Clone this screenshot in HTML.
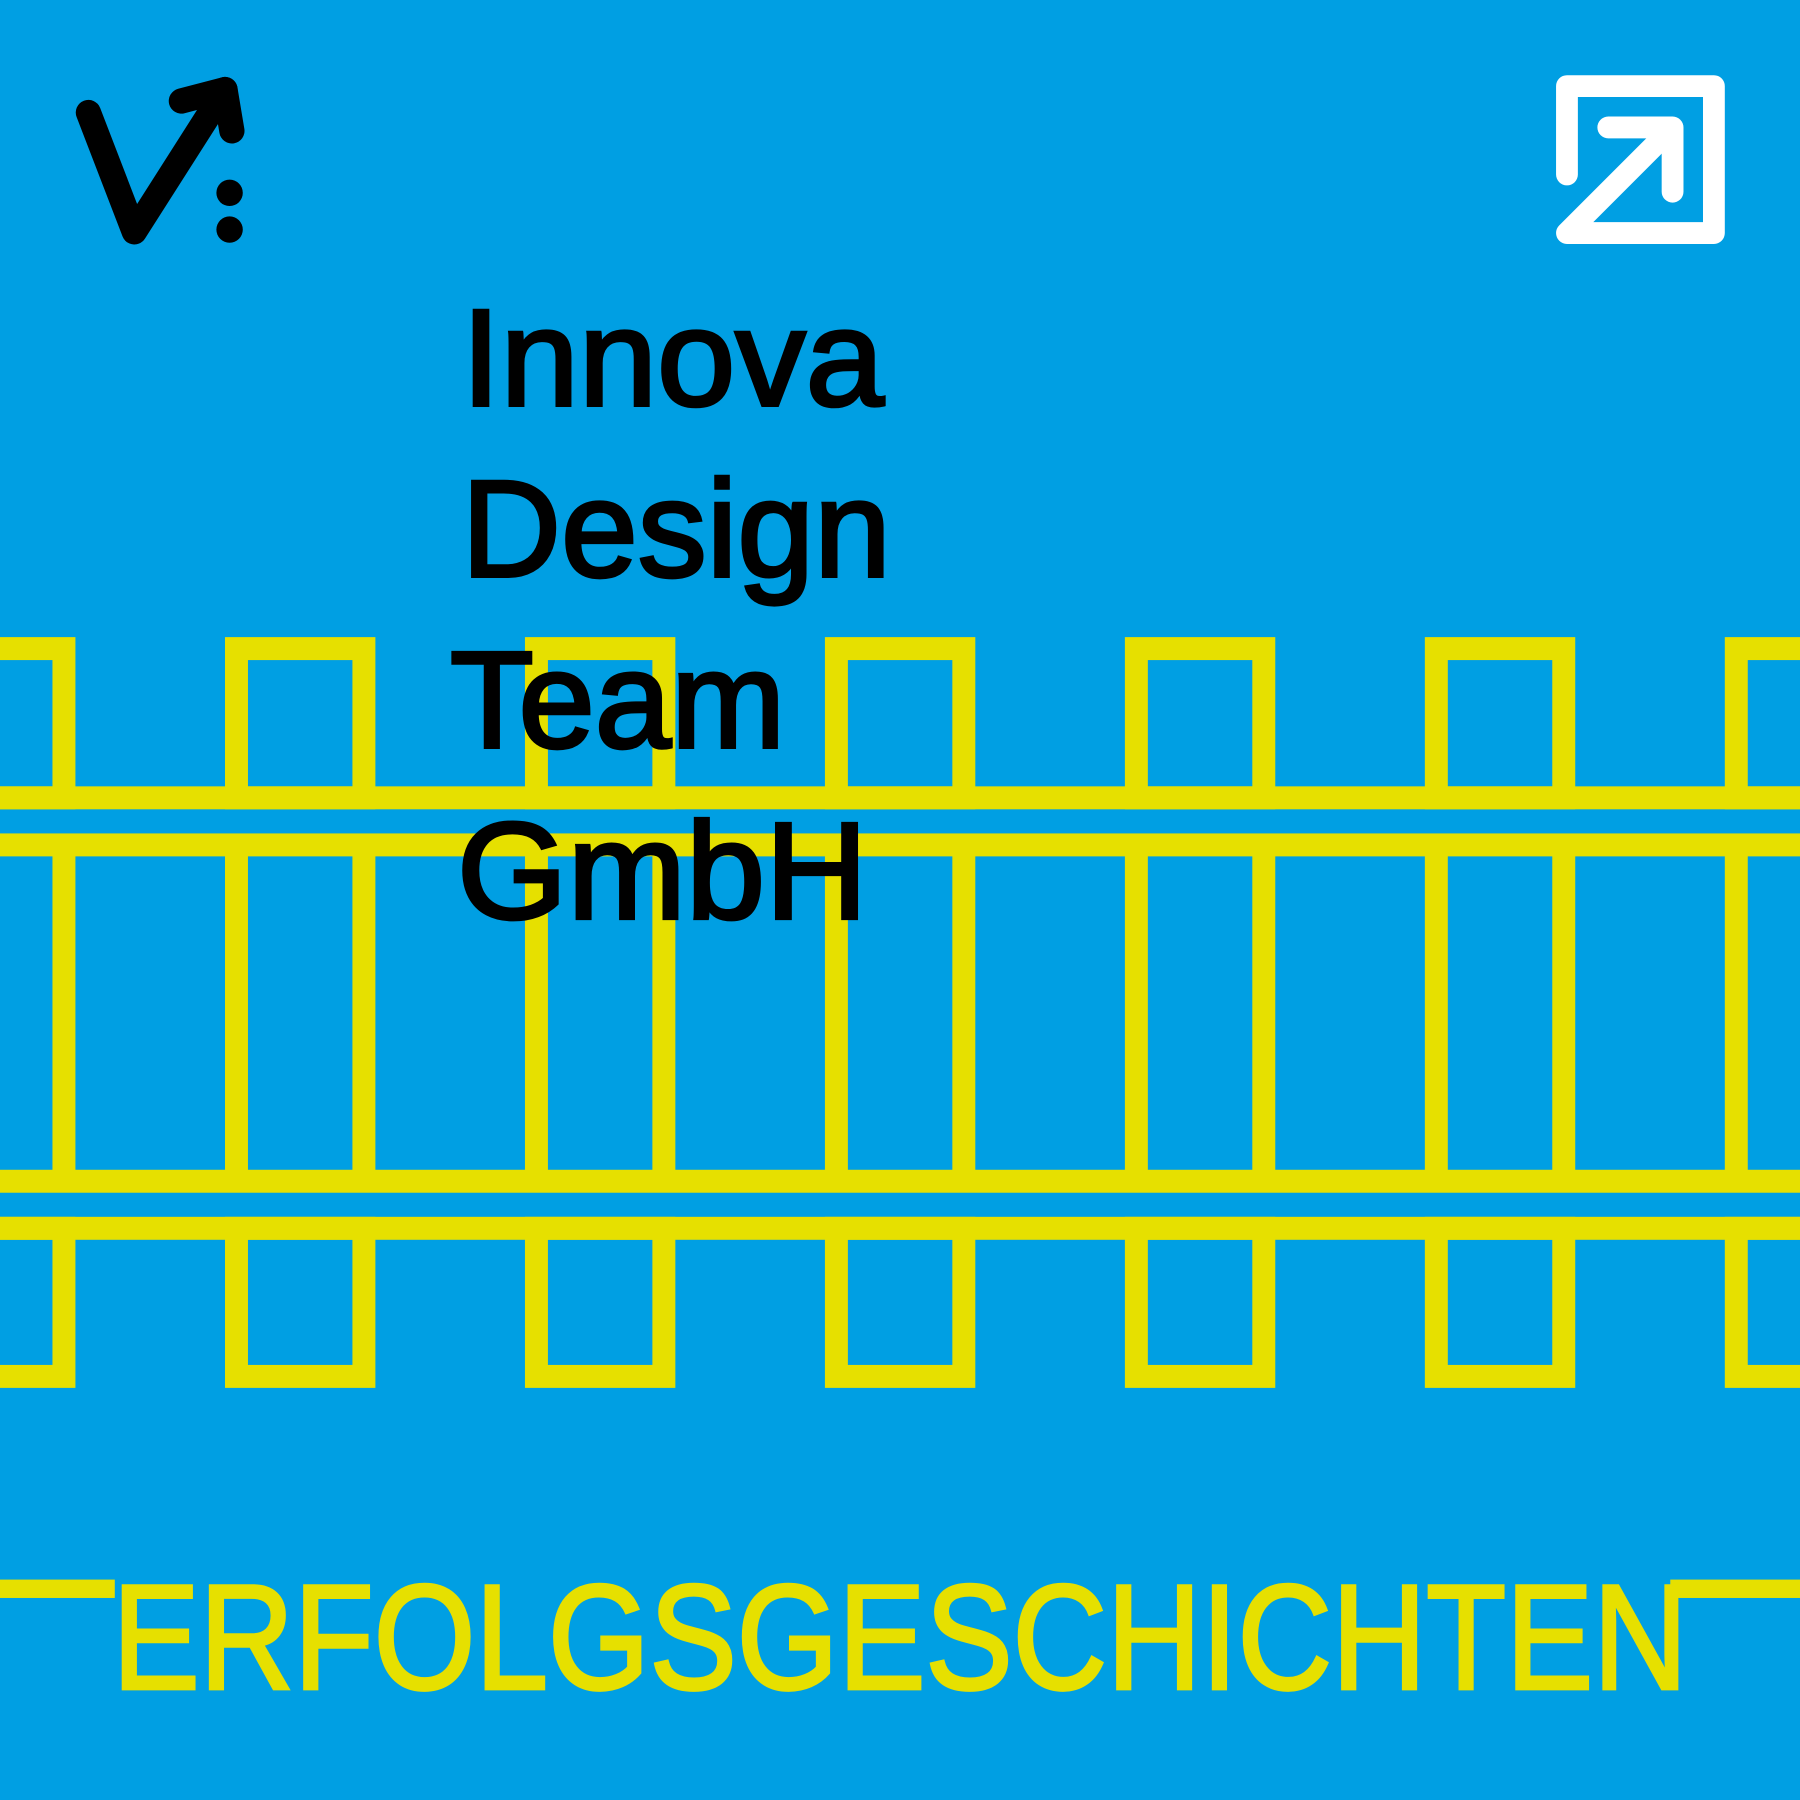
<!DOCTYPE html>
<html><head><meta charset="utf-8"><style>
html,body{margin:0;padding:0;background:#009FE3;}
svg{display:block;}
</style></head><body>
<svg width="1800" height="1800" viewBox="0 0 1568 1568" xmlns="http://www.w3.org/2000/svg">
<rect width="1568" height="1568" fill="#009FE3"/>
<g fill="none" stroke="#E6E000" stroke-width="20">
  <g id="col">
    <rect x="206" y="565" width="111" height="130"/>
    <rect x="206" y="1070" width="111" height="129"/>
    <line x1="206" y1="736" x2="206" y2="1029"/>
    <line x1="317" y1="736" x2="317" y2="1029"/>
  </g>
  <use href="#col" x="-261.3"/>
  <use href="#col" x="261.3"/>
  <use href="#col" x="522.6"/>
  <use href="#col" x="783.9"/>
  <use href="#col" x="1045.2"/>
  <use href="#col" x="1306.5"/>
</g>
<g fill="#E6E000">
  <rect x="0" y="685" width="1568" height="20"/>
  <rect x="0" y="726" width="1568" height="20"/>
  <rect x="0" y="1019" width="1568" height="20"/>
  <rect x="0" y="1060" width="1568" height="20"/>
  <rect x="0" y="1376" width="100" height="16"/>
  <rect x="1455" y="1376" width="113" height="16"/>
</g>
<g font-family="'Liberation Sans', sans-serif" font-size="120" fill="#000" stroke="#000" stroke-width="3" lengthAdjust="spacingAndGlyphs">
  <text x="402" y="353" textLength="368" lengthAdjust="spacingAndGlyphs">Innova</text>
  <text x="402" y="502" textLength="374" lengthAdjust="spacingAndGlyphs">Design</text>
  <text x="392" y="651" textLength="292" lengthAdjust="spacingAndGlyphs">Team</text>
  <text x="398" y="800" textLength="358" lengthAdjust="spacingAndGlyphs">GmbH</text>
</g>
<text x="98" y="1471" font-family="'Liberation Sans', sans-serif" font-size="130" fill="#E6E000" stroke="#E6E000" stroke-width="3" textLength="1372" lengthAdjust="spacingAndGlyphs">ERFOLGSGESCHICHTEN</text>
<g fill="none" stroke="#000" stroke-width="22" stroke-linecap="round" stroke-linejoin="round">
  <path d="M77,98 L117,202 L196,78"/>
  <path d="M158,88 L196,78 L202,114"/>
</g>
<circle cx="200" cy="168" r="11.5" fill="#000"/>
<circle cx="200" cy="200" r="11.5" fill="#000"/>
<g fill="none" stroke="#fff" stroke-width="19" stroke-linecap="round" stroke-linejoin="round">
  <path d="M1365,152 V75 H1493 V203 H1365 L1450,118"/>
  <path d="M1401,111 H1457 V167"/>
</g>
</svg>
</body></html>
